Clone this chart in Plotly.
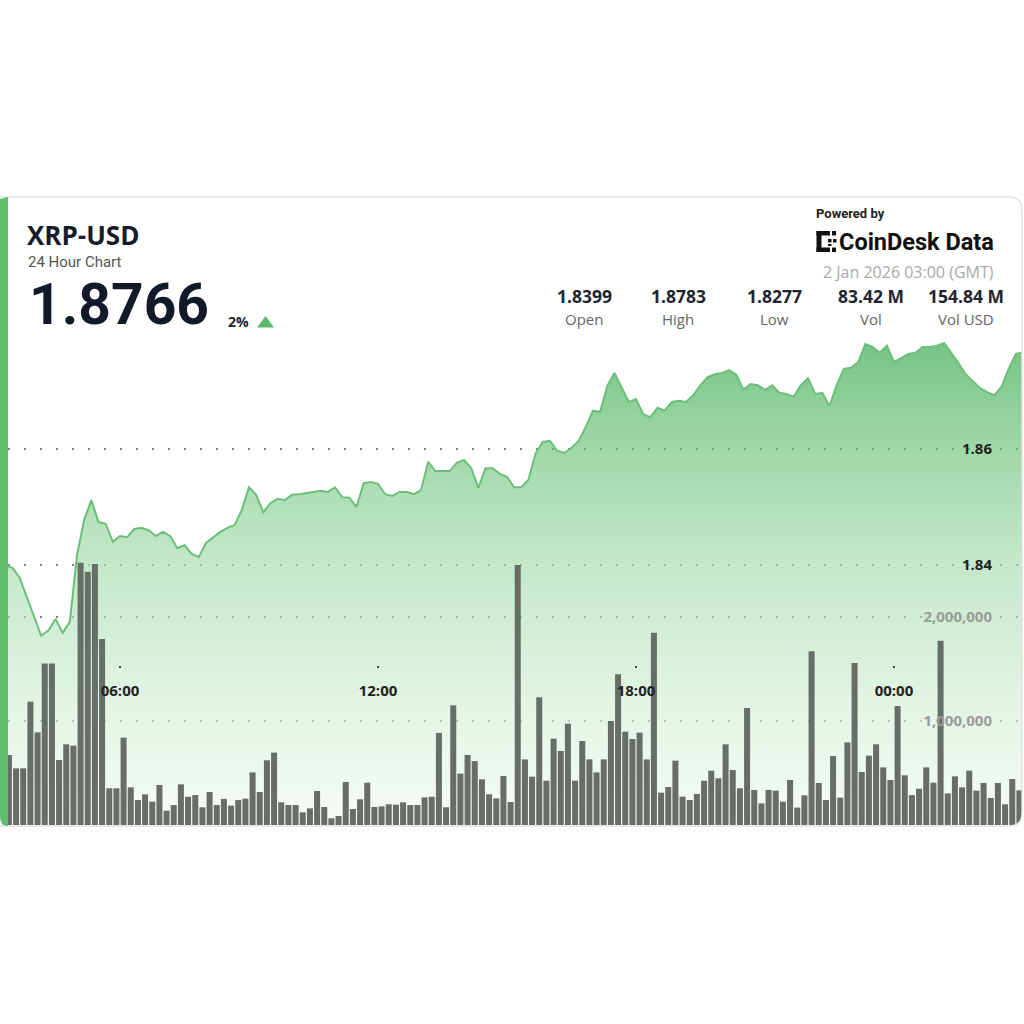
import plotly.graph_objects as go
import pandas as pd

# ---------------- data ----------------
series_start = "2026-01-01 03:20"   # first visible 10-minute sample
prices = [
    1.8400, 1.8395, 1.8378, 1.8345, 1.8314, 1.8278, 1.8287, 1.8307, 1.8283, 1.8302,
    1.8417, 1.8478, 1.8512, 1.8474, 1.8471, 1.8440, 1.8450, 1.8448, 1.8462, 1.8464,
    1.8460, 1.8450, 1.8457, 1.8450, 1.8429, 1.8434, 1.8419, 1.8414, 1.8438, 1.8447,
    1.8457, 1.8464, 1.8469, 1.8495, 1.8534, 1.8521, 1.8491, 1.8507, 1.8514, 1.8512,
    1.8521, 1.8522, 1.8524, 1.8526, 1.8528, 1.8526, 1.8534, 1.8517, 1.8516, 1.8500,
    1.8541, 1.8543, 1.8540, 1.8522, 1.8519, 1.8526, 1.8526, 1.8522, 1.8529, 1.8578,
    1.8562, 1.8562, 1.8562, 1.8576, 1.8581, 1.8567, 1.8533, 1.8567, 1.8567, 1.8557,
    1.8552, 1.8534, 1.8534, 1.8547, 1.8593, 1.8612, 1.8614, 1.8597, 1.8593, 1.8602,
    1.8614, 1.8638, 1.8666, 1.8664, 1.8709, 1.8731, 1.8707, 1.8681, 1.8686, 1.8660,
    1.8655, 1.8671, 1.8666, 1.8681, 1.8683, 1.8681, 1.8693, 1.8710, 1.8724, 1.8729,
    1.8731, 1.8736, 1.8728, 1.8702, 1.8712, 1.8710, 1.8702, 1.8710, 1.8697, 1.8695,
    1.8690, 1.8710, 1.8722, 1.8695, 1.8697, 1.8674, 1.8710, 1.8738, 1.8740, 1.8750,
    1.8781, 1.8776, 1.8766, 1.8778, 1.8750, 1.8757, 1.8764, 1.8766, 1.8776, 1.8776,
    1.8778, 1.8783, 1.8766, 1.8748, 1.8729, 1.8717, 1.8705, 1.8698, 1.8693, 1.8707,
    1.8738, 1.8764, 1.8766,
]
volumes_m = [
    0.673, 0.545, 0.545, 1.186, 0.891, 1.554, 1.554, 0.625, 0.776, 0.763,
    2.522, 2.436, 2.510, 1.788, 0.353, 0.353, 0.840, 0.362, 0.240, 0.295,
    0.224, 0.385, 0.138, 0.192, 0.391, 0.272, 0.288, 0.170, 0.317, 0.192,
    0.250, 0.186, 0.240, 0.253, 0.506, 0.317, 0.622, 0.696, 0.218, 0.192,
    0.192, 0.122, 0.160, 0.327, 0.173, 0.064, 0.087, 0.413, 0.154, 0.247,
    0.407, 0.173, 0.179, 0.199, 0.196, 0.218, 0.192, 0.192, 0.266, 0.272,
    0.885, 0.170, 1.151, 0.494, 0.673, 0.615, 0.439, 0.295, 0.256, 0.471,
    0.221,
    2.500, 0.631, 0.465, 1.228, 0.426, 0.830, 0.712, 0.974, 0.426, 0.808,
    0.631, 0.506, 0.631, 1.000, 1.449, 0.897, 0.827, 0.888, 0.631, 1.849,
    0.311, 0.365, 0.619, 0.272, 0.240, 0.298, 0.426, 0.522, 0.449, 0.776,
    0.529, 0.353, 1.125, 0.337, 0.208, 0.337, 0.330, 0.224, 0.433, 0.167,
    0.285, 1.670, 0.404, 0.240, 0.663, 0.263, 0.795, 1.558, 0.510, 0.667,
    0.776, 0.554, 0.433, 1.144, 0.478, 0.288, 0.349, 0.554, 0.407, 1.772,
    0.304, 0.468, 0.362, 0.522, 0.330, 0.404, 0.260, 0.404, 0.199, 0.442,
    0.333,
]
volumes = [v * 1_000_000 for v in volumes_m]

price_ticks = [1.84, 1.86]
volume_ticks = [1_000_000, 2_000_000]

symbol = "XRP-USD"
subtitle = "24 Hour Chart"
last_price = "1.8766"
change_pct = "2%"
timestamp_label = "2 Jan 2026 03:00 (GMT)"
stat_values = ["1.8399", "1.8783", "1.8277", "83.42 M", "154.84 M"]
stat_labels = ["Open", "High", "Low", "Vol", "Vol USD"]

times = pd.date_range(series_start, periods=len(prices), freq="10min")
vol_times = pd.date_range(series_start, periods=len(volumes), freq="10min")

# ---------------- layout helpers (pixel -> paper) ----------------
W = H = 1024
def px(x):
    return x / W
def py(y):
    return 1 - y / H

PLOT_L, PLOT_R, PLOT_T, PLOT_B = 8, 1022, 200, 825
price_range = [1.795172, 1.902931]
vol_range = [0, 6.00962e6]
x_range = ["2026-01-01 03:23:43", "2026-01-02 02:58:37"]

FONT = "Open Sans, Noto Sans, sans-serif"
TIGHT = "Roboto, Inter, sans-serif"
LOGO_FONT = "Roboto, Inter, sans-serif"
GRID = "rgba(85,85,85,0.75)"

fig = go.Figure()

fig.add_trace(go.Scatter(
    x=times, y=prices, mode="lines",
    line=dict(color="#6cbf7a", width=2),
    fill="tozeroy",
    fillgradient=dict(
        type="vertical",
        start=1.7952, stop=1.8783,
        colorscale=[
            [0.0, "rgba(241,250,241,0.65)"],
            [0.26, "rgba(210,238,214,0.65)"],
            [0.54, "rgba(164,220,172,0.65)"],
            [0.78, "rgba(109,195,121,0.65)"],
            [1.0, "rgba(50,165,72,0.67)"],
        ],
    ),
    hoverinfo="skip", yaxis="y", xaxis="x",
))

fig.add_trace(go.Bar(
    x=vol_times, y=volumes,
    xperiod=600000, xperiodalignment="middle",
    marker=dict(color="#676e67", line=dict(width=0)),
    hoverinfo="skip", yaxis="y2", xaxis="x",
))

shapes = []
# card background
r = 13
L, R, T, B = -20, 1022, 197, 826
card_path = (
    f"M {px(L)},{py(T)} L {px(R - r)},{py(T)} Q {px(R)},{py(T)} {px(R)},{py(T + r)} "
    f"L {px(R)},{py(B - r)} Q {px(R)},{py(B)} {px(R - r)},{py(B)} L {px(L)},{py(B)} Z"
)
shapes.append(dict(type="path", xref="paper", yref="paper", path=card_path,
                   fillcolor="white", line=dict(width=0), layer="below"))
# mask bottom-right rounded corner
mask_path = (
    f"M {px(R)},{py(B - r)} Q {px(R)},{py(B)} {px(R - r)},{py(B)} "
    f"L {px(R + 2)},{py(B + 2)} Z"
)
shapes.append(dict(type="path", xref="paper", yref="paper", path=mask_path,
                   fillcolor="white", line=dict(width=0), layer="above"))
# card border
shapes.append(dict(type="path", xref="paper", yref="paper", path=card_path,
                   fillcolor="rgba(0,0,0,0)", line=dict(width=1.5, color="#e2e2e2"),
                   layer="above"))
# green stripe on the left
stripe_path = (
    f"M {px(0)},{py(199)} L {px(8)},{py(197)} L {px(8)},{py(826)} "
    f"Q {px(0)},{py(826)} {px(0)},{py(816)} Z"
)
shapes.append(dict(type="path", xref="paper", yref="paper", path=stripe_path,
                   fillcolor="#5dbd6d", line=dict(width=0), layer="above"))
# up triangle
shapes.append(dict(type="path", xref="paper", yref="paper",
                   path=f"M {px(257)},{py(327.5)} L {px(274)},{py(327.5)} L {px(265.5)},{py(316)} Z",
                   fillcolor="#5cb96a", line=dict(width=0), layer="above"))
# CoinDesk logo glyph (bracket of dots)
for (x0, y0, x1, y1) in [(816.5, 231, 821.5, 252), (816.5, 231, 830, 235.5),
                          (816.5, 247.5, 830, 252), (832, 231, 836, 235.5),
                          (832, 247.5, 836, 252), (828, 239, 831.5, 242.5),
                          (833, 239, 836.5, 242.5), (828, 244, 831.5, 246)]:
    shapes.append(dict(type="rect", xref="paper", yref="paper",
                       x0=px(x0), x1=px(x1), y0=py(y0), y1=py(y1),
                       fillcolor="#111", line=dict(width=0), layer="above"))

ann = []
def text(x, y, s, size, color, bold=False, xanchor="left", family=FONT):
    ann.append(dict(x=px(x), y=py(y), xref="paper", yref="paper", text=s,
                    showarrow=False, xanchor=xanchor, yanchor="middle",
                    font=dict(family=family, size=size, color=color,
                              weight="bold" if bold else "normal")))

text(25, 235, symbol, 26, "#161c2b", bold=True)
text(26, 261.6, subtitle, 15, "#555555", family=TIGHT)
text(27, 304.5, last_price, 57, "#121a2a", bold=True, family=TIGHT)
text(226, 321, change_pct, 14, "#1f2530", bold=True)
text(814, 213.5, "Powered by", 13, "#222222", bold=True, family=LOGO_FONT)
text(837, 242, "CoinDesk Data", 23.5, "#111111", bold=True, family=LOGO_FONT)
text(996, 272, timestamp_label, 16, "#a9a9a9", xanchor="right")

stat_centers = [584, 678, 774, 870.5, 966]
for cx, v, lab in zip(stat_centers, stat_values, stat_labels):
    text(cx, 296, v, 17.5, "#1f2530", bold=True, xanchor="center")
    text(cx, 318.5, lab, 15, "#666666", xanchor="center")

fig.update_layout(
    width=W, height=H,
    margin=dict(l=0, r=0, t=0, b=0),
    paper_bgcolor="white", plot_bgcolor="rgba(0,0,0,0)",
    showlegend=False, hovermode=False,
    bargap=0.16,
    shapes=shapes, annotations=ann,
    xaxis=dict(
        type="date", domain=[px(PLOT_L), px(PLOT_R)], range=x_range,
        anchor="free", position=py(664.5),
        tick0="2026-01-01 06:00", dtick=6 * 3600 * 1000, tickformat="%H:%M",
        ticks="outside", ticklen=2, tickwidth=2, tickcolor="#444",
        ticklabelstandoff=10,
        tickfont=dict(family=FONT, size=15, color="#222", weight="bold"),
        showgrid=False, showline=False, zeroline=False, fixedrange=True,
    ),
    yaxis=dict(
        domain=[py(PLOT_B), py(PLOT_T)], range=price_range,
        side="right", tickvals=price_ticks, ticktext=[f"{v:.2f}" for v in price_ticks],
        ticklabelposition="inside", ticks="", ticklabelstandoff=27,
        tickfont=dict(family=FONT, size=15, color="#222", weight="bold"),
        showgrid=True, gridcolor=GRID, gridwidth=1.5,
        griddash="2px,14px", zeroline=False, showline=False, fixedrange=True,
    ),
    yaxis2=dict(
        overlaying="y", range=vol_range, side="right",
        tickvals=volume_ticks, tickformat=",",
        ticklabelposition="inside", ticks="", ticklabelstandoff=27,
        tickfont=dict(family=FONT, size=15, color="#9c9c9c", weight="bold"),
        showgrid=True, gridcolor=GRID, gridwidth=1.5,
        griddash="2px,14px", zeroline=False, showline=False, fixedrange=True,
    ),
)

fig.write_html("out.html")
